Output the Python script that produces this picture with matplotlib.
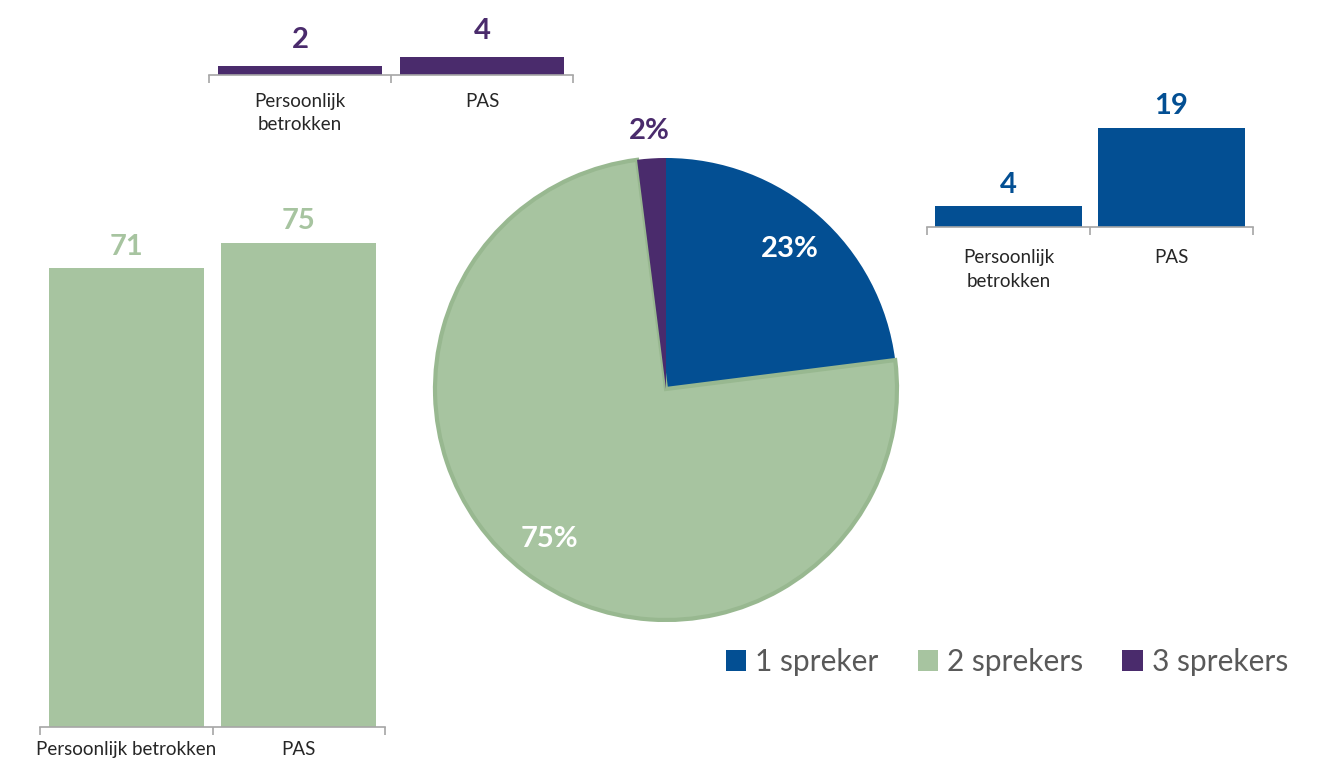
import numpy as np
import matplotlib
matplotlib.use('Agg')
import matplotlib.pyplot as plt
from matplotlib.patches import Patch

plt.rcParams['font.family'] = ['Lato', 'DejaVu Sans']

# --- Data ---
categories = ['Persoonlijk betrokken', 'PAS']
categories_wrapped = ['Persoonlijk\nbetrokken', 'PAS']
counts_2_sprekers = [71, 75]
counts_3_sprekers = [2, 4]
counts_1_spreker = [4, 19]

pie_labels = ['1 spreker', '2 sprekers', '3 sprekers']
pie_share = [23, 75, 2]

BLUE = '#034f93'
GREEN = '#a7c4a0'
GREEN_EDGE = '#98b890'
PURPLE = '#4a2b6c'
AXIS_GREY = '#a6a6a6'
TEXT_DARK = '#262626'
LEGEND_GREY = '#595959'

W, H = 1323, 767


def px_axes(fig, x0, x1, y_axis, height):
    """Axes placed by pixel coordinates (y measured from the top)."""
    return fig.add_axes([x0 / W, (H - y_axis) / H, (x1 - x0) / W, height / H])


def small_bar_chart(ax, labels, values, color, ymax, label_pad, value_size=21,
                    cat_size=13.5, value_pad=6):
    x = np.arange(len(values))
    bars = ax.bar(x, values, width=0.9, color=color)
    ax.set_xlim(-0.5, len(values) - 0.5)
    ax.set_ylim(0, ymax)
    for side in ['top', 'right', 'left']:
        ax.spines[side].set_visible(False)
    ax.spines['bottom'].set_color(AXIS_GREY)
    ax.spines['bottom'].set_linewidth(1.2)
    ax.set_yticks([])
    ax.set_xticks(x)
    ax.set_xticklabels(labels, fontsize=cat_size, color=TEXT_DARK, linespacing=1.45)
    ax.tick_params(axis='x', which='major', length=0, pad=label_pad)
    ax.set_xticks(np.arange(len(values) + 1) - 0.5, minor=True)
    ax.tick_params(axis='x', which='minor', length=6, width=1.2, color=AXIS_GREY)
    ax.bar_label(bars, labels=[str(v) for v in values], padding=value_pad,
                 fontsize=value_size, fontweight='bold', color=color)
    ax.patch.set_alpha(0)


fig = plt.figure(figsize=(W / 100, H / 100), dpi=100)

# left: 2 sprekers
ax_green = px_axes(fig, 40, 385, 727, 520)
small_bar_chart(ax_green, categories, counts_2_sprekers, GREEN, 80.5, label_pad=10)

# top: 3 sprekers
ax_purple = px_axes(fig, 209, 573, 75, 28)
small_bar_chart(ax_purple, categories_wrapped, counts_3_sprekers, PURPLE, 6.2,
                label_pad=13, value_pad=9)

# right: 1 spreker
ax_blue = px_axes(fig, 927, 1253, 227, 115)
small_bar_chart(ax_blue, categories_wrapped, counts_1_spreker, BLUE, 22, label_pad=16)

# pie in the middle
cx, cy, r = 666, 389, 231
half = 250
ax_pie = fig.add_axes([(cx - half) / W, (H - cy - half) / H, 2 * half / W, 2 * half / H])
wedges, _ = ax_pie.pie(pie_share, colors=[BLUE, GREEN, PURPLE], startangle=90,
                       counterclock=False, radius=1)
wedges[1].set_edgecolor(GREEN_EDGE)
wedges[1].set_linewidth(3)
for w in (wedges[0], wedges[2]):
    w.set_edgecolor('none')
lim = half / r
ax_pie.set_xlim(-lim, lim)
ax_pie.set_ylim(-lim, lim)
ax_pie.set_aspect('equal')

label_radius = [0.81, 0.82, 1.12]
label_colors = ['white', 'white', PURPLE]
for w, share, rad, col in zip(wedges, pie_share, label_radius, label_colors):
    ang = np.deg2rad((w.theta1 + w.theta2) / 2)
    ax_pie.text(rad * np.cos(ang), rad * np.sin(ang), f'{share}%', ha='center',
                va='center', fontsize=21, fontweight='bold', color=col)

# legend
handles = [Patch(facecolor=c, edgecolor='none') for c in [BLUE, GREEN, PURPLE]]
fig.legend(handles, pie_labels, loc='center', bbox_to_anchor=(1007 / W, 1 - 662 / H),
           ncol=3, frameon=False, fontsize=21.5, labelcolor=LEGEND_GREY,
           handlelength=0.7, handleheight=0.7, handletextpad=0.3, columnspacing=1.3)

fig.savefig('out.png', dpi=100)
